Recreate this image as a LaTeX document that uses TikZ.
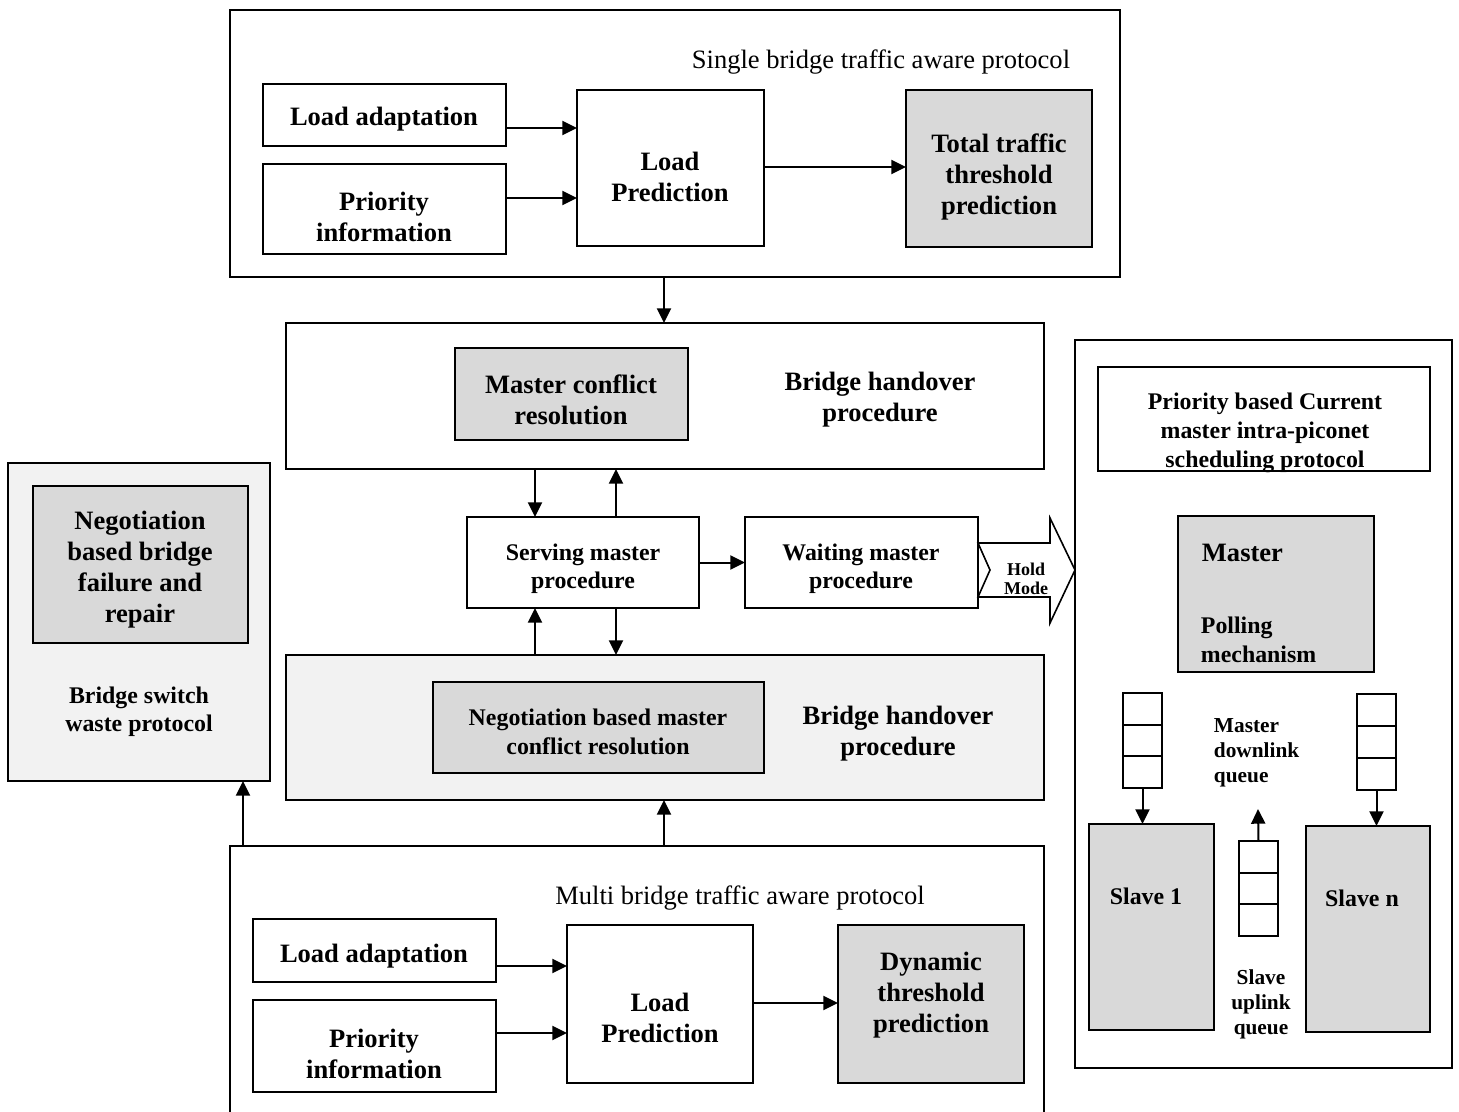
\documentclass[tikz,border=0pt]{standalone}
\usepackage{fontspec}
\setmainfont{Liberation Serif}
\usetikzlibrary{arrows.meta,calc}
\definecolor{boxgray}{HTML}{D9D9D9}
\definecolor{boxlight}{HTML}{F2F2F2}
\newcommand\bx[6]{\node[#6, minimum width={(#4-#2)*0.75pt}, minimum height={(#5-#3)*0.75pt}] (#1) at ({(#2+#4)/2},{(#3+#5)/2}) {};}
\newcommand\queue[5]{%
  \node[box, fill=white, minimum width={(#4-#2)*0.75pt}, minimum height={(#5-#3)*0.75pt}] (#1) at ({(#2+#4)/2},{(#3+#5)/2}) {};
  \draw ($(#1.north west)!1/3!(#1.south west)$) -- ($(#1.north east)!1/3!(#1.south east)$);
  \draw ($(#1.north west)!2/3!(#1.south west)$) -- ($(#1.north east)!2/3!(#1.south east)$);}
\begin{document}
\begin{tikzpicture}[x=0.75pt,y=-0.75pt,line width=1.4pt,
  box/.style={draw, inner sep=0pt, outer sep=0pt},
  gbox/.style={box, fill=boxgray},
  lbox/.style={box, fill=boxlight},
  txt/.style={inner sep=0pt, yshift=-2.2pt},
  big/.style={txt, font=\bfseries\fontsize{19.9}{23.3}\selectfont, align=center},
  small/.style={txt, font=\bfseries\fontsize{17.9}{21.3}\selectfont, align=center},
  med/.style={txt, font=\bfseries\fontsize{17.9}{21.75}\selectfont, align=center},
  tiny/.style={txt, font=\bfseries\fontsize{16}{18.8}\selectfont},
  holdtxt/.style={txt, font=\bfseries\fontsize{13.5}{14}\selectfont, align=center},
  title/.style={txt, font=\fontsize{19.9}{23.3}\selectfont},
  arr/.style={draw, line width=1.5pt, -{Triangle[length=11pt,width=10.5pt]}}]
\useasboundingbox (0,0) rectangle (1459,1111);

% ---------- top: single bridge ----------
\bx{top}{230}{10}{1120}{277}{box}
\node[title] (toptitle) at (881,59) {Single bridge traffic aware protocol};
\bx{la1}{263}{84}{506}{146}{box}
\node[big] (la1t) at (384,116) {Load adaptation};
\bx{pi1}{263}{164}{506}{254}{box}
\node[big] (pi1t) at (384,214) {Priority\\information};
\bx{lp1}{577}{90}{764}{246}{box}
\node[big] (lp1t) at (670,174) {Load\\Prediction};
\bx{tt}{906}{90}{1092}{247}{gbox}
\node[big] (ttt) at (999,174) {Total traffic\\threshold\\prediction};
\draw[arr] (la1.east |- 0,128) -- (lp1.west |- 0,128);
\draw[arr] (pi1.east |- 0,198) -- (lp1.west |- 0,198);
\draw[arr] (lp1.east |- 0,167) -- (tt.west |- 0,167);

% ---------- bridge handover 1 ----------
\bx{bh1}{286}{323}{1044}{469}{box}
\bx{mcr}{455}{348}{688}{440}{gbox}
\node[big] (mcrt) at (571,397) {Master conflict\\resolution};
\node[big] (bh1t) at (880,397) {Bridge handover\\procedure};
\draw[arr] (top.south -| 664,0) -- (bh1.north -| 664,0);

% ---------- serving / waiting ----------
\bx{sm}{467}{517}{699}{608}{box}
\node[small] (smt) at (583,566) {Serving master\\procedure};
\bx{wm}{745}{517}{978}{608}{box}
\node[small] (wmt) at (861,566) {Waiting master\\procedure};
\draw[arr] (sm.east) -- (wm.west);
\draw[arr] (bh1.south -| 535,0) -- (sm.north -| 535,0);
\draw[arr] (sm.north -| 616,0) -- (bh1.south -| 616,0);

% hold mode arrow
\draw[fill=white, line width=1.2pt] (wm.east |- 0,543) -- (1050,543) -- (1050,518) -- (1075,570) -- (1050,623) -- (1050,597) -- (wm.east |- 0,597) -- (990,570) -- cycle;
\node[holdtxt] (hold) at (1026,576) {Hold\\Mode};

% ---------- bridge handover 2 ----------
\bx{bh2}{286}{655}{1044}{800}{lbox}
\bx{nmcr}{433}{682}{764}{773}{gbox}
\node[small] (nmcrt) at (598,729) {Negotiation based master\\conflict resolution};
\node[big] (bh2t) at (898,731) {Bridge handover\\procedure};
\draw[arr] (bh2.north -| 535,0) -- (sm.south -| 535,0);
\draw[arr] (sm.south -| 616,0) -- (bh2.north -| 616,0);

% ---------- left box ----------
\bx{lb}{8}{463}{270}{781}{lbox}
\bx{nbf}{33}{486}{248}{643}{gbox}
\node[big] (nbft) at (140,567) {Negotiation\\based bridge\\failure and\\repair};
\node[small] (lbt) at (139,709) {Bridge switch\\waste protocol};

% ---------- bottom: multi bridge ----------
\bx{bot}{230}{846}{1044}{1125}{box}
\node[title] (bottitle) at (740,895) {Multi bridge traffic aware protocol};
\bx{la2}{253}{919}{496}{982}{box}
\node[big] (la2t) at (374,953) {Load adaptation};
\bx{pi2}{253}{1000}{496}{1092}{box}
\node[big] (pi2t) at (374,1051) {Priority\\information};
\bx{lp2}{567}{925}{753}{1083}{box}
\node[big] (lp2t) at (660,1015) {Load\\Prediction};
\bx{dyn}{838}{925}{1024}{1083}{gbox}
\node[big] (dynt) at (931,992) {Dynamic\\threshold\\prediction};
\draw[arr] (la2.east |- 0,966) -- (lp2.west |- 0,966);
\draw[arr] (pi2.east |- 0,1033) -- (lp2.west |- 0,1033);
\draw[arr] (lp2.east |- 0,1003) -- (dyn.west |- 0,1003);
\draw[arr] (bot.north -| 664,0) -- (bh2.south -| 664,0);
\draw[arr] (bot.north -| 243,0) -- (lb.south -| 243,0);

% ---------- right box ----------
\bx{rb}{1075}{340}{1452}{1068}{box}
\bx{pb}{1098}{367}{1430}{471}{box}
\node[med] (pbt) at (1265,430) {Priority based Current\\master intra-piconet\\scheduling protocol};
\bx{mb}{1178}{516}{1374}{672}{gbox}
\node[big, anchor=west] (mbt) at (1201,550) {Master};
\node[small, anchor=west, align=left] (pmt) at (1200,637) {Polling\\mechanism};

\queue{qL}{1123}{693}{1162}{788}
\queue{qR}{1357}{694}{1396}{790}
\queue{qU}{1239}{841}{1278}{936}
\bx{s1}{1089}{824}{1214}{1030}{gbox}
\node[small] (s1t) at (1146,893) {Slave 1};
\bx{sn}{1306}{826}{1430}{1032}{gbox}
\node[small] (snt) at (1362,895) {Slave n};
\coordinate (upend) at (1258,809);
\draw[arr] (qL.south) -- (s1.north -| qL.south);
\draw[arr] (qR.south) -- (sn.north -| qR.south);
\draw[arr] (qU.north) -- (upend);
\node[tiny, anchor=west, align=left] (mdq) at (1213,750) {Master\\downlink\\queue};
\node[tiny, align=center] (suq) at (1261,1001) {Slave\\uplink\\queue};
\end{tikzpicture}
\end{document}
